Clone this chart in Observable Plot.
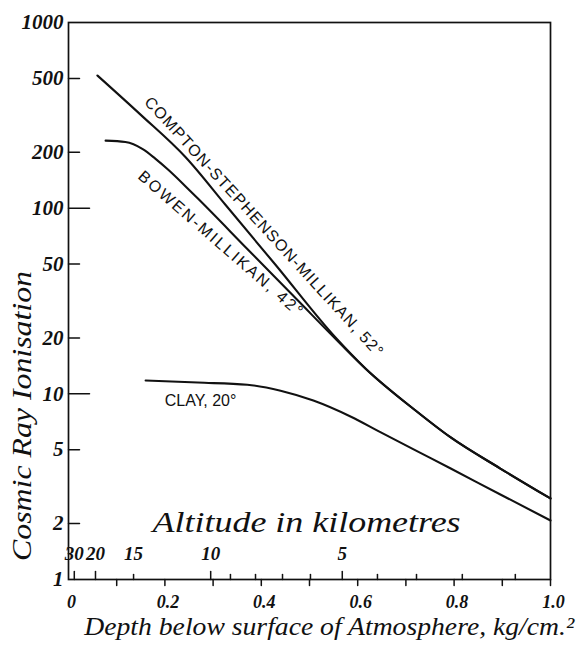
<!DOCTYPE html>
<html><head><meta charset="utf-8">
<script src="https://cdn.jsdelivr.net/npm/d3@7"></script>
<script src="https://cdn.jsdelivr.net/npm/@observablehq/plot@0.6"></script>
<style>
html,body{margin:0;padding:0;background:#fff;}
</style></head><body><div id="chart"></div>
<script>
// Compton-Stephenson-Millikan, 52°
const comptonDepth = [0.060, 0.150, 0.243, 0.326, 0.429, 0.554, 0.616, 0.720, 0.793, 0.896, 1.0];
const comptonValue = [518, 318, 188, 104, 49.7, 20.1, 13.7, 8.13, 5.82, 3.96, 2.73];
// Bowen-Millikan, 42°
const bowenDepth = [0.077, 0.118, 0.154, 0.180, 0.207, 0.243, 0.268, 0.371, 0.475, 0.564, 0.616, 0.720, 0.793, 0.896, 1.0];
const bowenValue = [231, 227, 208, 185, 161, 131, 113, 60.3, 32.0, 18.6, 13.7, 8.13, 5.82, 3.96, 2.73];
// Clay, 20°
const clayDepth = [0.160, 0.268, 0.371, 0.440, 0.508, 0.585, 0.647, 0.720, 0.793, 0.896, 1.0];
const clayValue = [11.8, 11.5, 11.2, 10.4, 9.2, 7.55, 6.22, 4.96, 3.96, 2.87, 2.08];

// axes
const yTicks = [1, 2, 5, 10, 20, 50, 100, 200, 500, 1000];
const yShortTicks = [2, 5, 20, 50, 200, 500];
const yLongTicks = [10, 100];
const xTicks = [0, 0.2, 0.4, 0.6, 0.8, 1.0];
const xMinorTicks = [0.1, 0.2, 0.3, 0.4, 0.5, 0.6, 0.7, 0.8, 0.9, 1.0];
// altitude (km) scale drawn along the depth axis
const altKm = [30, 20, 15, 10, 9, 8, 7, 6, 5, 4, 3, 2, 1];
const altDepth = [0.012, 0.056, 0.135, 0.295, 0.336, 0.388, 0.444, 0.502, 0.568, 0.641, 0.722, 0.817, 0.927];
const altLabelled = [30, 20, 15, 10, 5];
const altLong = [30, 20, 10, 5];

// curve annotations
const labelText = ["COMPTON-STEPHENSON-MILLIKAN, 52°", "BOWEN-MILLIKAN, 42°", "CLAY, 20°"];
const labelDepth = [0.405, 0.315, 0.274];
const labelValue = [79.6, 64.5, 9.2];
const labelAngle = [47.6, 41, 0];

const yTitle = "Cosmic Ray Ionisation";
const xTitle = "Depth below surface of Atmosphere, kg/cm.²";
const altTitle = "Altitude in kilometres";

const series = [
  ...comptonDepth.map((d, i) => ({name: "Compton", depth: d, value: comptonValue[i]})),
  ...bowenDepth.map((d, i) => ({name: "Bowen", depth: d, value: bowenValue[i]})),
  ...clayDepth.map((d, i) => ({name: "Clay", depth: d, value: clayValue[i]}))
];
const alt = altKm.map((k, i) => ({km: k, depth: altDepth[i]}));

const serif = "Liberation Serif, serif";
const sans = "Liberation Sans, sans-serif";
const tickShape = {draw(ctx, l) { ctx.moveTo(0, 0); ctx.lineTo(0, -l); }};
const ink = "#111";

const svg = Plot.plot({
  width: 576, height: 648,
  marginTop: 22, marginRight: 26, marginBottom: 69, marginLeft: 68,
  style: {background: "#fff", color: ink},
  x: {domain: [0, 1], axis: null},
  y: {type: "log", domain: [1, 1000], axis: null},
  marks: [
    Plot.frame({stroke: ink, strokeWidth: 1.7}),
    // y tick labels
    Plot.text(yTicks, {y: d => d, frameAnchor: "left", textAnchor: "end", dx: -5, text: d => String(d),
      fontFamily: serif, fontStyle: "italic", fontWeight: "bold", fontSize: 21, fill: ink}),
    // x tick labels
    Plot.text(xTicks, {x: d => d, frameAnchor: "bottom", dy: 28, dx: 3, text: d => d === 0 ? "0" : d.toFixed(1),
      fontFamily: serif, fontStyle: "italic", fontWeight: "bold", fontSize: 18, fill: ink}),
    // inward y ticks
    Plot.vector(yShortTicks, {y: d => d, frameAnchor: "left", rotate: 90, length: 11, anchor: "start", shape: tickShape, stroke: ink, strokeWidth: 1.5}),
    Plot.vector(yLongTicks, {y: d => d, frameAnchor: "left", rotate: 90, length: 21, anchor: "start", shape: tickShape, stroke: ink, strokeWidth: 1.5}),
    // depth ticks below the axis
    Plot.vector(xMinorTicks, {x: d => d, frameAnchor: "bottom", rotate: 180, length: 6, anchor: "start", shape: tickShape, stroke: ink, strokeWidth: 1.5}),
    // altitude ticks above the axis
    Plot.vector(alt.filter(a => altLong.includes(a.km)), {x: "depth", frameAnchor: "bottom", rotate: 0, length: 8, anchor: "start", shape: tickShape, stroke: ink, strokeWidth: 1.5}),
    Plot.vector(alt.filter(a => !altLong.includes(a.km)), {x: "depth", frameAnchor: "bottom", rotate: 0, length: 5, anchor: "start", shape: tickShape, stroke: ink, strokeWidth: 1.5}),
    Plot.text(alt.filter(a => altLabelled.includes(a.km)), {x: "depth", frameAnchor: "bottom", dy: -20, text: d => String(d.km),
      fontFamily: serif, fontStyle: "italic", fontWeight: "bold", fontSize: 19, fill: ink}),
    // curves
    Plot.line(series, {x: "depth", y: "value", z: "name", curve: "monotone-x", stroke: ink, strokeWidth: 2.1}),
    // curve labels
    Plot.text(labelText, {x: (d, i) => labelDepth[i], y: (d, i) => labelValue[i], rotate: (d, i) => labelAngle[i], text: d => d,
      fontFamily: sans, fontSize: 16, fill: ink}),
    // titles
    Plot.text([altTitle], {x: () => 0.494, frameAnchor: "bottom", dy: -48, text: d => d,
      fontFamily: serif, fontStyle: "italic", fontSize: 29, fill: ink}),
    Plot.text([xTitle], {x: () => 0.541, frameAnchor: "bottom", dy: 55, text: d => d,
      fontFamily: serif, fontStyle: "italic", fontSize: 25, fill: ink}),
    Plot.text([yTitle], {y: () => 7.6, frameAnchor: "left", textAnchor: "middle", dx: -46, rotate: -90, text: d => d,
      fontFamily: serif, fontStyle: "italic", fontSize: 28, fill: ink})
  ]
});

const fit = {[altTitle]: [308, "spacingAndGlyphs"], [yTitle]: [290, "spacingAndGlyphs"], [xTitle]: [490, "spacingAndGlyphs"],
  [labelText[0]]: [345, "spacing"], [labelText[1]]: [212, "spacing"]};
svg.querySelectorAll("text").forEach(t => {
  const f = fit[t.textContent];
  if (f) { t.setAttribute("textLength", f[0]); t.setAttribute("lengthAdjust", f[1]); }
});
document.getElementById("chart").appendChild(svg);
</script>
</body></html>
